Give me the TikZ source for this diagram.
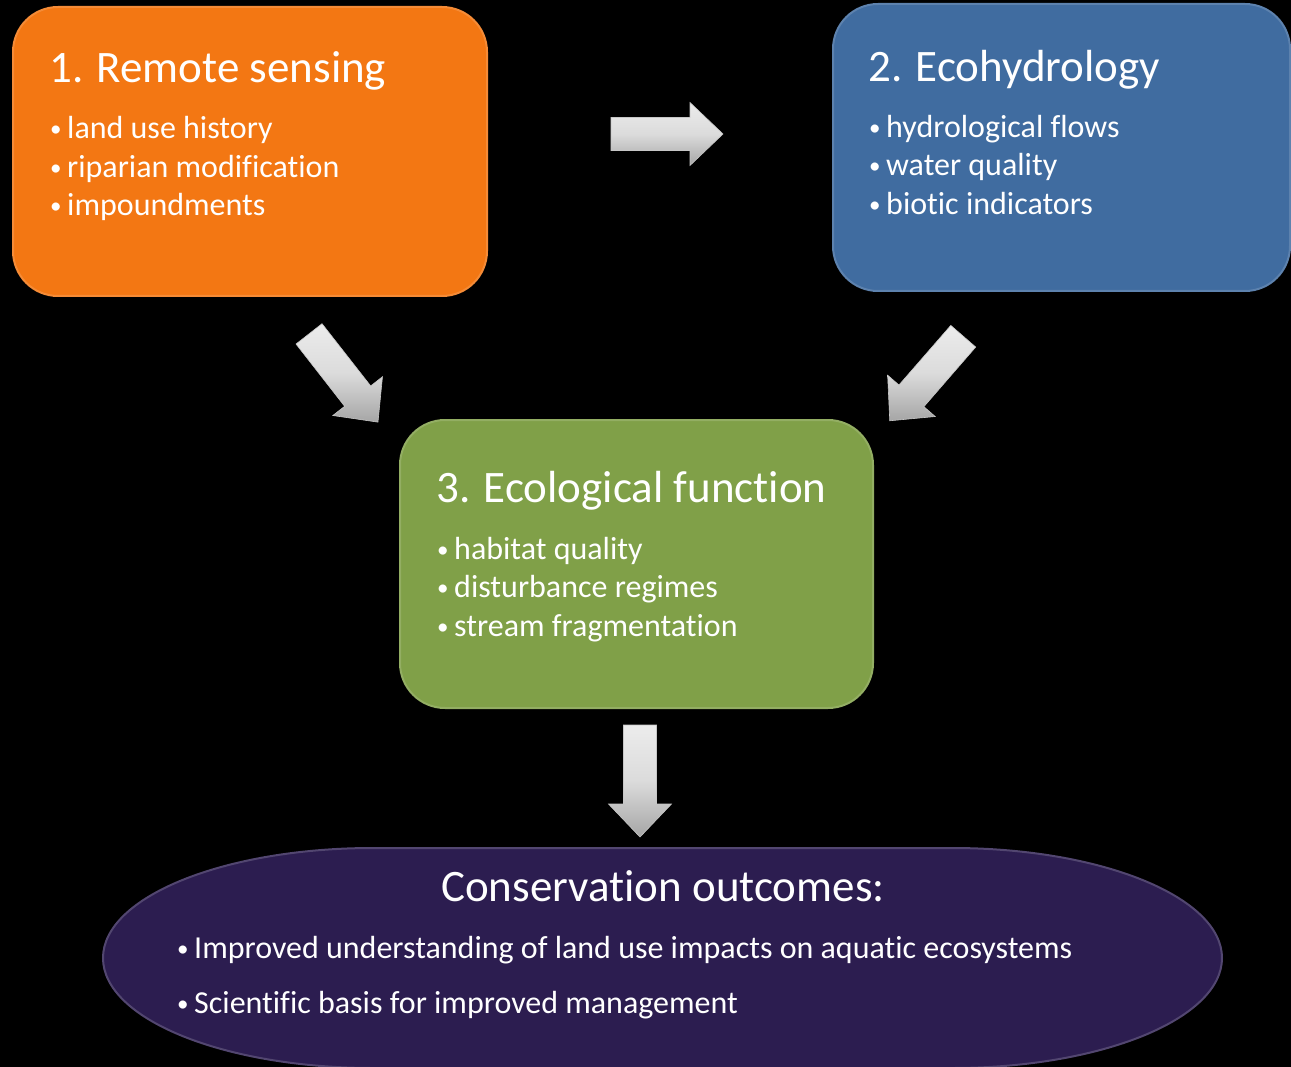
\documentclass[tikz,border=0pt]{standalone}
\usepackage{fontspec}
\setmainfont{Carlito}[Ligatures={NoCommon}]
\definecolor{orangebox}{RGB}{243,119,19}
\definecolor{bluebox}{RGB}{64,108,160}
\definecolor{greenbox}{RGB}{128,160,72}
\definecolor{purplebox}{RGB}{44,29,80}
\newcommand{\itembullet}{\makebox[18pt][l]{\hspace{1pt}\raisebox{2pt}{\scalebox{0.72}{•}}}}
\tikzset{
  box/.style={rounded corners=45pt, inner sep=0pt, line width=2pt},
  titletext/.style={anchor=base west, text=white, inner sep=0pt, font=\fontsize{45}{50}\selectfont},
  itemtext/.style={anchor=base west, text=white, inner sep=0pt, font=\fontsize{32}{36}\selectfont},
  blockarrow/.style={top color=gray!15, bottom color=gray!70, middle color=gray!28, draw=gray!45, line width=0.6pt},
  barrow/.pic={
    \shade[blockarrow] (-56,-16.5) -- (23,-16.5) -- (23,-31.5) -- (56,0) -- (23,31.5) -- (23,16.5) -- (-56,16.5) -- cycle;
  }
}
\begin{document}
\begin{tikzpicture}[x=1pt,y=-1pt]
\useasboundingbox (0,0) rectangle (1291,1067);
\fill[black] (0,0) rectangle (1291,1067);

% boxes
\node[box, fill=orangebox, draw=orangebox!85!white, minimum width=474pt, minimum height=289pt] (rs) at (250,151.5) {};
\node[box, fill=bluebox, draw=bluebox!85!white, minimum width=457pt, minimum height=287pt] (eh) at (1061.5,147.5) {};
\node[box, fill=greenbox, draw=greenbox!85!white, minimum width=473pt, minimum height=288pt] (ef) at (636.5,564) {};
\path[fill=purplebox, draw=purplebox!82!white, line width=2pt]
  (373,848) -- (952,848)
  .. controls (1101,848) and (1222,897) .. (1222,958)
  .. controls (1222,1019) and (1101,1068) .. (952,1068)
  -- (373,1068)
  .. controls (224,1068) and (103,1019) .. (103,958)
  .. controls (103,897) and (224,848) .. (373,848) -- cycle;
\coordinate (co) at (662,958);

% arrows
\pic[rotate=0] at (667,134) {barrow};
\pic[rotate=-52] at (343.5,378) {barrow};
\pic[rotate=-131] at (926.5,378.5) {barrow};
\pic[rotate=-90] at (640,781) {barrow};

% texts box 1
\node[titletext] (rs-t) at (49,83) {1. Remote sensing};
\node[itemtext] (rs-1) at (49,139) {\itembullet land use history};
\node[itemtext] (rs-2) at (49,178) {\itembullet riparian modification};
\node[itemtext] (rs-3) at (49,216) {\itembullet impoundments};

% texts box 2
\node[titletext] (eh-t) at (868,82) {2. Ecohydrology};
\node[itemtext] (eh-1) at (868,138) {\itembullet hydrological flows};
\node[itemtext] (eh-2) at (868,176) {\itembullet water quality};
\node[itemtext] (eh-3) at (868,215) {\itembullet biotic indicators};

% texts box 3
\node[titletext] (ef-t) at (436,502) {3. Ecological function};
\node[itemtext] (ef-1) at (436,559) {\itembullet habitat quality};
\node[itemtext] (ef-2) at (436,597) {\itembullet disturbance regimes};
\node[itemtext] (ef-3) at (436,636) {\itembullet stream fragmentation};

% texts box 4
\node[titletext, anchor=base] (co-t) at (663,901) {Conservation outcomes:};
\node[itemtext] (co-1) at (176,958) {\itembullet Improved understanding of land use impacts on aquatic ecosystems};
\node[itemtext] (co-2) at (176,1013) {\itembullet Scientific basis for improved management};
\end{tikzpicture}
\end{document}
